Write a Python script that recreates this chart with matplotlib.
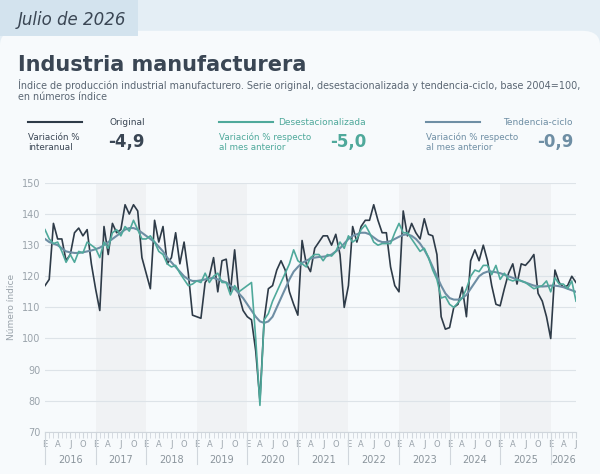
import matplotlib.pyplot as plt
from matplotlib.patches import FancyBboxPatch, Rectangle

years = list(range(2016, 2027))
month_letters = ["E", "A", "J", "O"]

original = [
    117, 119, 137, 132, 132, 125, 127, 134, 135.5, 133, 135, 124,
    116, 109, 136, 127, 137, 134, 135, 143, 140, 143, 141, 126,
    121, 116, 138, 131, 136, 124, 126, 134, 124, 131, 121, 107.5,
    107, 106.5, 118, 120, 126, 115, 125, 125.5, 115, 128.5, 114, 109,
    107, 106, 96, 80, 106, 116, 117, 122, 125, 122, 115, 111,
    107.5, 131.5, 124, 121.5, 129, 131, 133, 133, 130, 133.5, 127, 110,
    117, 136, 131, 136, 138, 138, 143, 138, 134, 134, 123, 117,
    115, 141, 133, 137, 134, 132, 138.5, 133.5, 133, 127, 107, 103,
    103.5, 110, 111, 116.5, 107, 125, 128.5, 125, 130, 125, 117, 111,
    110.5, 116, 121, 124, 117.5, 124, 123.5, 125, 127, 114.5, 112, 107,
    100, 122, 118, 116.5, 117, 120, 118,
]
desestacionalizada = [
    135, 132, 130.5, 131, 128, 124.5, 127, 124.5, 128, 127.5, 131, 130,
    129, 126, 131, 129, 134, 135, 133, 136, 134.5, 138, 135, 132,
    132, 133, 131, 128, 127, 124, 123, 123.5, 121, 119, 117, 117.5,
    118.5, 118, 121, 118, 120, 121, 118, 118, 114, 117, 115, 116,
    117, 118, 100, 78.5, 106, 108, 112, 115, 118, 121, 124, 128.5,
    125, 124, 123, 126, 127, 127, 125, 127, 126.5, 128, 131, 129,
    133, 131, 132, 135, 136.5, 134, 131, 130, 130.5, 130.5, 130.5, 134,
    137, 134, 134, 132, 130, 128, 129, 126, 122, 119, 113, 113.5,
    111, 110, 111.5, 113, 116, 120, 122, 121.5, 123.5, 123.5, 120.5, 123.5,
    119, 121, 119, 118.5, 119, 118.5, 118, 117, 116, 116.5, 117, 118.5,
    115, 119.5, 117.5, 117.5, 116, 118.5, 112,
]
tendencia = [
    132, 131, 130.5, 130, 129, 128, 127.7, 127.5, 127.5, 127.7, 128, 128.3,
    128.7, 129.2, 130, 131, 132, 133, 134, 135, 135.5, 135.5, 135, 134,
    133, 132, 131, 129.5, 128, 126, 124.5, 123, 121.5, 120, 119, 118.5,
    118.5, 118.7, 119, 119.3, 119.5, 119, 118.5, 118, 117, 116, 114.5, 113,
    111, 109, 107, 105.5, 105, 105.5, 107, 110, 113, 116, 119, 121.5,
    123, 124.3, 125, 125.7, 126, 126.2, 126.3, 126.5, 127, 128, 129, 130.5,
    132, 133, 133.5, 134, 134, 133.5, 132.5, 131.5, 131, 131, 131.3, 132,
    132.7, 133.3, 133.5, 133, 132, 130.5, 128.5, 126, 123, 120, 117, 114.5,
    113, 112.5, 112.5, 113, 114, 116, 118, 120, 121, 121.5, 121.5, 121.3,
    121, 120.5, 120, 119.5, 119, 118.5, 118, 117.5, 117, 116.8, 116.7, 116.8,
    117, 117, 116.8, 116.5, 116, 115.5, 115,
]

c_orig = "#2e3b48"
c_des = "#4fa99b"
c_ten = "#6e8ea4"
c_text = "#3a4654"

fig = plt.figure(figsize=(6, 4.74), dpi=100)
fig.patch.set_facecolor("#e4eef5")
card = FancyBboxPatch((0.0, -0.05), 1.0, 0.985, boxstyle="round,pad=0,rounding_size=0.03",
                      transform=fig.transFigure, facecolor="#f7fafc", edgecolor="none", zorder=-10)
fig.patches.append(card)
tab = Rectangle((0, 0.925), 0.23, 0.075, transform=fig.transFigure,
                facecolor="#d3e3ee", edgecolor="none", zorder=-10)
fig.patches.append(tab)
fig.text(0.03, 0.957, "Julio de 2026", fontsize=12, style="italic", color=c_text, va="center")
fig.text(0.03, 0.862, "Industria manufacturera", fontsize=15, weight="semibold", color=c_text, va="center")
fig.text(0.03, 0.820, "Índice de producción industrial manufacturero. Serie original, desestacionalizada y tendencia-ciclo, base 2004=100,",
         fontsize=6.9, color="#5a6673", va="center")
fig.text(0.03, 0.795, "en números índice", fontsize=6.9, color="#5a6673", va="center")

# legend blocks
fig.add_artist(plt.Line2D([0.047, 0.137], [0.742, 0.742], color=c_orig, lw=1.5))
fig.text(0.183, 0.737, "Original", fontsize=6.5, color=c_text)
fig.text(0.047, 0.700, "Variación %\ninteranual", fontsize=6.3, color=c_text, va="center")
fig.text(0.18, 0.700, "-4,9", fontsize=12, weight="bold", color=c_text, va="center")

fig.add_artist(plt.Line2D([0.365, 0.455], [0.742, 0.742], color=c_des, lw=1.5))
fig.text(0.61, 0.737, "Desestacionalizada", fontsize=6.5, color=c_des, ha="right")
fig.text(0.365, 0.700, "Variación % respecto\nal mes anterior", fontsize=6.3, color=c_des, va="center")
fig.text(0.61, 0.700, "-5,0", fontsize=12, weight="bold", color=c_des, va="center", ha="right")

fig.add_artist(plt.Line2D([0.71, 0.80], [0.742, 0.742], color=c_ten, lw=1.5))
fig.text(0.955, 0.737, "Tendencia-ciclo", fontsize=6.5, color=c_ten, ha="right")
fig.text(0.71, 0.700, "Variación % respecto\nal mes anterior", fontsize=6.3, color=c_ten, va="center")
fig.text(0.955, 0.700, "-0,9", fontsize=12, weight="bold", color=c_ten, va="center", ha="right")

ax = fig.add_axes([0.075, 0.089, 0.885, 0.525])
ax.set_facecolor("none")
x = list(range(len(original)))
for i, yr in enumerate(years):
    if i % 2 == 1:
        ax.axvspan(i * 12, min(i * 12 + 12, len(x) - 1), color="#f0f2f4", zorder=0, lw=0)
ax.set_ylim(70, 150)
ax.set_xlim(0, len(x) - 1)
ax.set_yticks(range(70, 151, 10))
ax.grid(axis="y", color="#dde3e8", lw=0.8)
ax.set_axisbelow(True)
for s in ax.spines.values():
    s.set_visible(False)
ax.spines["bottom"].set_visible(True)
ax.spines["bottom"].set_color("#d0d6dc")
ax.tick_params(axis="y", length=0, labelsize=7, colors="#9aa3ab")
ax.set_ylabel("Número índice", fontsize=6.5, color="#9aa3ab")

ax.plot(x, original, color=c_orig, lw=1.2, zorder=3)
ax.plot(x, tendencia, color=c_ten, lw=1.5, zorder=4)
ax.plot(x, desestacionalizada, color=c_des, lw=1.2, zorder=5)

ax.set_xticks(x, minor=True)
ax.tick_params(axis="x", which="minor", length=4, color="#d0d6dc")
ticks = [m for m in x if m % 3 == 0]
ax.set_xticks(ticks)
ax.set_xticklabels([month_letters[(m % 12) // 3] for m in ticks], fontsize=6, color="#9aa3ab")
ax.tick_params(axis="x", which="major", length=4, color="#d0d6dc", pad=2)
for i, yr in enumerate(years):
    start = i * 12
    end = min(start + 12, len(x) - 1)
    ax.plot([start, start], [0, -0.13], transform=ax.get_xaxis_transform(), color="#d0d6dc",
            lw=0.8, clip_on=False)
    ax.text((start + end) / 2, -0.115, str(yr), transform=ax.get_xaxis_transform(),
            ha="center", va="center", fontsize=7, color="#8a949c")

fig.savefig("out.png", dpi=100, facecolor=fig.get_facecolor())
